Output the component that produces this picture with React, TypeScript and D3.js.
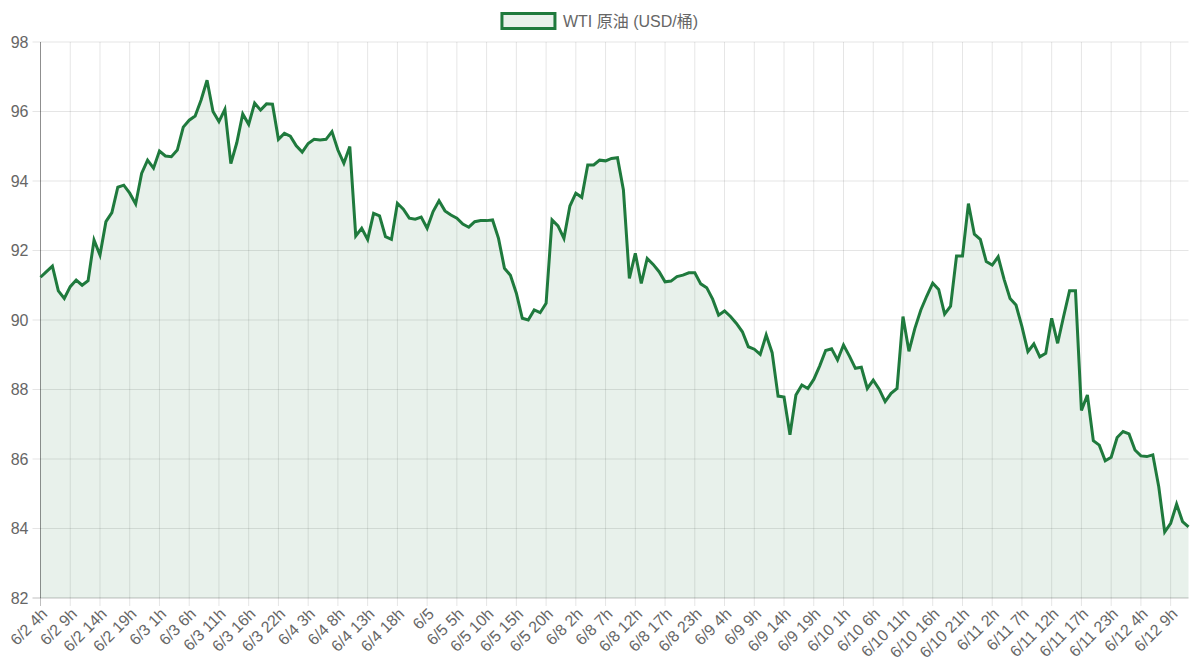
import { useRef, useEffect } from 'react';
import * as d3 from 'd3';

// Trading hours per day: [date, firstHour, lastHour, skippedHour]
const DAYS: [string, number, number, number?][] = [
  ['6/2', 4, 22],
  ['6/3', 0, 23, 17],
  ['6/4', 0, 23, 19],
  ['6/5', 0, 22],
  ['6/8', 0, 23, 18],
  ['6/9', 0, 22],
  ['6/10', 0, 23],
  ['6/11', 0, 23, 18],
  ['6/12', 0, 12],
];

const LABELS: string[] = DAYS.flatMap(([day, from, to, skip]) =>
  d3.range(from, to + 1).filter(h => h !== skip).map(h => (h === 0 ? day : `${day} ${h}h`))
);

const WTI = [
  91.23, 91.39, 91.55, 90.84, 90.62, 90.96, 91.15, 91.0, 91.13, 92.3,
  91.87, 92.83, 93.09, 93.82, 93.88, 93.65, 93.34, 94.22, 94.6, 94.37,
  94.86, 94.72, 94.7, 94.89, 95.55, 95.75, 95.87, 96.33, 96.9, 96.0,
  95.71, 96.06, 94.5, 95.1, 95.93, 95.63, 96.24, 96.04, 96.22, 96.21,
  95.2, 95.37, 95.29, 95.01, 94.83, 95.08, 95.2, 95.18, 95.2, 95.42,
  94.89, 94.51, 94.99, 92.42, 92.64, 92.32, 93.07, 93.0, 92.4, 92.32,
  93.36, 93.19, 92.93, 92.9, 92.96, 92.64, 93.12, 93.43, 93.14, 93.02,
  92.93, 92.76, 92.67, 92.83, 92.86, 92.86, 92.88, 92.35, 91.49, 91.29,
  90.77, 90.05, 90.0, 90.29, 90.21, 90.48, 92.88, 92.71, 92.35, 93.28,
  93.65, 93.53, 94.46, 94.46, 94.6, 94.58, 94.65, 94.67, 93.74, 91.2,
  91.92, 91.05, 91.77, 91.6, 91.39, 91.1, 91.12, 91.25, 91.29, 91.36,
  91.36, 91.04, 90.93, 90.6, 90.14, 90.26, 90.1, 89.9, 89.66, 89.23,
  89.16, 89.01, 89.57, 89.06, 87.81, 87.78, 86.7, 87.84, 88.13, 88.03,
  88.29, 88.68, 89.12, 89.17, 88.85, 89.28, 88.96, 88.61, 88.64, 88.03,
  88.27, 88.01, 87.65, 87.89, 88.03, 90.1, 89.1, 89.76, 90.29, 90.69,
  91.06, 90.88, 90.17, 90.4, 91.84, 91.84, 93.35, 92.47, 92.32, 91.68,
  91.58, 91.82, 91.17, 90.62, 90.43, 89.81, 89.09, 89.31, 88.94, 89.04,
  90.05, 89.33, 90.1, 90.84, 90.84, 87.4, 87.84, 86.53, 86.4, 85.95,
  86.05, 86.62, 86.79, 86.72, 86.26, 86.09, 86.07, 86.12, 85.2, 83.9,
  84.15, 84.7, 84.2, 84.05,
];

const Y_TICKS = [82, 84, 86, 88, 90, 92, 94, 96, 98];
const LABEL_STEP = 5;
const SERIES_LABEL = 'WTI 原油 (USD/桶)';

const WIDTH = 1200;
const HEIGHT = 667;
const MARGIN = { top: 42, right: 11.5, bottom: 69, left: 40.5 };
const FONT = 'Helvetica Neue, Helvetica, Arial, Liberation Sans, Noto Sans CJK JP, sans-serif';
const LINE_COLOR = '#1f7a3d';
const FILL_COLOR = 'rgba(31, 122, 61, 0.1)';
const GRID_COLOR = 'rgba(0, 0, 0, 0.1)';
const AXIS_COLOR = 'rgba(0, 0, 0, 0.25)';
const TEXT_COLOR = '#666';

export default function App() {
  const svgRef = useRef<SVGSVGElement>(null);

  useEffect(() => {
    document.body.style.margin = '0';
    const svg = svgRef.current;
    if (!svg) return;

    const root = d3.select(svg);
    root.selectAll('*').remove();

    const left = MARGIN.left;
    const right = WIDTH - MARGIN.right;
    const top = MARGIN.top;
    const bottom = HEIGHT - MARGIN.bottom;

    const x = d3.scalePoint<string>().domain(LABELS).range([left, right]).padding(0);
    const y = d3.scaleLinear().domain([82, 98]).range([bottom, top]);

    const data = WTI.map((v, i) => ({ label: LABELS[i], value: v }));
    const shownLabels = LABELS.filter((_, i) => i % LABEL_STEP === 0);

    // Grid
    const grid = root.append('g');
    shownLabels.forEach((l, i) => {
      grid.append('line')
        .attr('x1', x(l)!).attr('x2', x(l)!)
        .attr('y1', top).attr('y2', bottom + 8)
        .attr('stroke', i === 0 ? AXIS_COLOR : GRID_COLOR).attr('stroke-width', 1);
    });
    Y_TICKS.forEach(t => {
      grid.append('line')
        .attr('x1', left - 8).attr('x2', right)
        .attr('y1', y(t)).attr('y2', y(t))
        .attr('stroke', t === 82 ? AXIS_COLOR : GRID_COLOR).attr('stroke-width', 1);
    });
    grid.append('line').attr('x1', left).attr('x2', left).attr('y1', top).attr('y2', bottom)
      .attr('stroke', AXIS_COLOR);

    // Area + line
    const area = d3.area<{ label: string; value: number }>()
      .x(d => x(d.label)!).y0(y(82)).y1(d => y(d.value));
    const line = d3.line<{ label: string; value: number }>()
      .x(d => x(d.label)!).y(d => y(d.value));

    root.append('path').datum(data).attr('d', area).attr('fill', FILL_COLOR);
    root.append('path').datum(data).attr('d', line)
      .attr('fill', 'none').attr('stroke', LINE_COLOR).attr('stroke-width', 3)
      .attr('stroke-linejoin', 'miter').attr('stroke-miterlimit', 4);

    // Y tick labels
    Y_TICKS.forEach(t => {
      root.append('text')
        .attr('x', left - 12).attr('y', y(t))
        .attr('text-anchor', 'end').attr('dominant-baseline', 'central')
        .attr('fill', TEXT_COLOR).attr('font-family', FONT).attr('font-size', '16px')
        .text(t);
    });

    // X tick labels (rotated)
    shownLabels.forEach(l => {
      root.append('text')
        .attr('transform', `translate(${x(l)! + 4},${bottom + 13}) rotate(-45)`)
        .attr('text-anchor', 'end').attr('dominant-baseline', 'central')
        .attr('fill', TEXT_COLOR).attr('font-family', FONT).attr('font-size', '16px')
        .text(l);
    });

    // Legend
    const legend = root.append('g');
    const legendText = legend.append('text')
      .attr('y', 21).attr('dominant-baseline', 'central')
      .attr('fill', TEXT_COLOR).attr('font-family', FONT).attr('font-size', '16px')
      .text(SERIES_LABEL);
    const textW = (legendText.node() as SVGTextElement).getComputedTextLength();
    const boxW = 53;
    const startX = WIDTH / 2 - (boxW + 8 + textW) / 2;
    legend.append('rect')
      .attr('x', startX).attr('y', 13.5).attr('width', boxW).attr('height', 15)
      .attr('fill', FILL_COLOR).attr('stroke', LINE_COLOR).attr('stroke-width', 3);
    legendText.attr('x', startX + boxW + 8);
  }, []);

  return <svg ref={svgRef} width={WIDTH} height={HEIGHT} style={{ display: 'block', background: '#fff' }} />;
}
